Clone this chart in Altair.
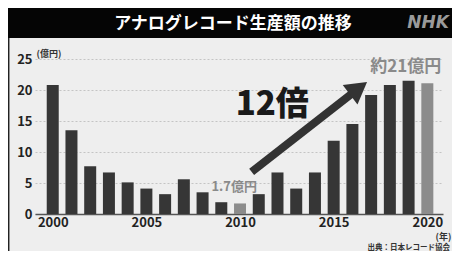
import altair as alt
import pandas as pd

# ---- data ----
years = list(range(2000, 2021))
values = [20.8, 13.5, 7.7, 6.7, 5.1, 4.1, 3.2, 5.6, 3.5, 1.9, 1.7,
          3.2, 6.7, 4.1, 6.7, 11.8, 14.5, 19.2, 20.8, 21.5, 21.1]
kinds = ["通常"] * 10 + ["強調"] + ["通常"] * 9 + ["強調"]

x_ticks = [2000, 2005, 2010, 2015, 2020]
y_ticks = [0, 5, 10, 15, 20, 25]

title_text = "アナログレコード生産額の推移"
source_text = "出典：日本レコード協会"

# annotations in data units (year, 億円)
ann_text = ["12倍", "1.7億円", "約21億円"]
ann_year = [2011.72, 2009.69, 2018.85]
ann_val = [17.6, 4.35, 23.7]

arrow_from = (2010.62, 6.8)
arrow_to = (2016.33, 20.26)

FONT = "Noto Sans CJK JP"

df = pd.DataFrame({"year": years, "value": values, "kind": kinds})
ann = pd.DataFrame({"text": ann_text, "year": ann_year, "value": ann_val})
arrow = pd.DataFrame({"x": [arrow_from[0]], "y": [arrow_from[1]],
                      "x2": [arrow_to[0]], "y2": [arrow_to[1]]})

xscale = alt.Scale(domain=[1999.32, 2020.57], nice=False, zero=False)
yscale = alt.Scale(domain=[0, 25], nice=False)

xaxis = alt.Axis(
    values=x_ticks, format="d", grid=False, ticks=False,
    domainColor="#555555", domainWidth=1.5,
    labelFont=FONT, labelFontSize=13, labelFontWeight="bold",
    labelColor="#222222", labelPadding=2,
    title="(年)", titleFont=FONT, titleFontSize=9, titleFontWeight="bold",
    titleColor="#333333", titleX=408, titleY=22, titleAlign="center",
    titleBaseline="middle", titleAngle=0)
yaxis = alt.Axis(
    values=y_ticks, grid=True, gridDash=[2, 2], gridColor="#c4c4c4",
    gridWidth=1, domain=False, ticks=False,
    labelFont=FONT, labelFontSize=13, labelFontWeight="bold",
    labelColor="#222222", labelPadding=3,
    title="(億円)", titleFont=FONT, titleFontSize=9, titleFontWeight="bold",
    titleColor="#333333", titleX=1, titleY=-6, titleAlign="left",
    titleBaseline="middle", titleAngle=0)

one = alt.Data(values=[{}])

frame_bar = alt.Chart(one).mark_rect(color="#050505").encode(
    x=alt.value(-27), x2=alt.value(417), y=alt.value(-51), y2=alt.value(-21))
left_border = alt.Chart(one).mark_rule(color="#222222", strokeWidth=1.5).encode(
    x=alt.value(-26.3), y=alt.value(-21), y2=alt.value(192))
title = alt.Chart(one).mark_text(
    font=FONT, fontSize=17, fontWeight="bold", color="white",
    align="center", baseline="middle").encode(
    x=alt.value(198), y=alt.value(-35), text=alt.value(title_text))
nhk = alt.Chart(one).mark_text(
    font="DejaVu Sans", fontSize=17, fontWeight="bold", fontStyle="italic",
    color="#9a9a9a", align="right", baseline="middle").encode(
    x=alt.value(414), y=alt.value(-36), text=alt.value("NHK"))
source = alt.Chart(one).mark_text(
    font=FONT, fontSize=7.5, fontWeight="bold", color="#333333",
    align="right", baseline="middle").encode(
    x=alt.value(415), y=alt.value(189), text=alt.value(source_text))

bars = alt.Chart(df).mark_bar(size=12).encode(
    x=alt.X("year:Q", scale=xscale, axis=xaxis),
    y=alt.Y("value:Q", scale=yscale, axis=yaxis),
    color=alt.Color("kind:N", scale=alt.Scale(domain=["通常", "強調"],
                                              range=["#363636", "#8c8c8c"]),
                    legend=None),
)

shaft = alt.Chart(arrow).mark_rule(color="#333333", strokeWidth=8, strokeCap="butt").encode(
    x=alt.X("x:Q", scale=xscale, axis=xaxis), y=alt.Y("y:Q", scale=yscale, axis=yaxis),
    x2="x2:Q", y2="y2:Q")
head = alt.Chart(arrow).mark_point(shape="triangle-up", size=600, angle=53,
                                   filled=True, color="#333333", opacity=1).encode(
    x=alt.X("x2:Q", scale=xscale, axis=xaxis), y=alt.Y("y2:Q", scale=yscale, axis=yaxis))


def ann_layer(label, size, color, weight):
    return alt.Chart(ann).transform_filter(alt.datum.text == label).mark_text(
        font=FONT, fontSize=size, fontWeight=weight, color=color,
        align="center", baseline="middle").encode(
        x=alt.X("year:Q", scale=xscale, axis=xaxis),
        y=alt.Y("value:Q", scale=yscale, axis=yaxis), text="text:N")


big = ann_layer("12倍", 33, "#1a1a1a", 900)
small = ann_layer("1.7億円", 13, "#8a8a8a", "bold")
top = ann_layer("約21億円", 17, "#8a8a8a", "bold")

chart = alt.layer(
    frame_bar, left_border, title, nhk, source, bars, shaft, head, big, small, top
).properties(
    width=408, height=155,
    autosize=alt.AutoSizeParams(type="none"),
    padding={"left": 27, "top": 51, "right": 9, "bottom": 37},
    background="#eeeeee",
).configure(font=FONT).configure_view(stroke=None)

chart.save("out.html", embed_options={"renderer": "svg", "actions": False})
